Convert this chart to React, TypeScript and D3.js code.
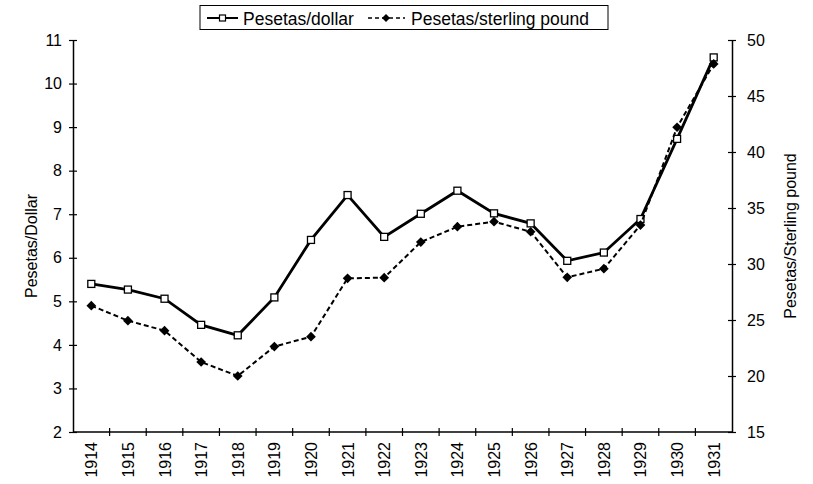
import React, { useEffect, useRef } from 'react';
import * as d3 from 'd3';

const years = ['1914', '1915', '1916', '1917', '1918', '1919', '1920', '1921', '1922',
  '1923', '1924', '1925', '1926', '1927', '1928', '1929', '1930', '1931'];

const pesetasDollar = [5.4, 5.27, 5.06, 4.46, 4.22, 5.09, 6.41, 7.44, 6.48,
  7.01, 7.54, 7.02, 6.79, 5.93, 6.12, 6.89, 8.73, 10.6];

const pesetasPound = [26.28, 24.94, 24.05, 21.25, 20.0, 22.63, 23.51, 28.72, 28.78,
  31.96, 33.33, 33.78, 32.88, 28.81, 29.58, 33.48, 42.21, 47.86];

const leftTicks = [2, 3, 4, 5, 6, 7, 8, 9, 10, 11];
const rightTicks = [15, 20, 25, 30, 35, 40, 45, 50];

const FONT = '"Liberation Sans", Arial, Helvetica, sans-serif';

const App = () => {
  const svgRef = useRef<SVGSVGElement>(null);

  useEffect(() => {
    const width = 813;
    const height = 484;
    const left = 73, right = 732, top = 40, bottom = 432;

    const svg = d3.select(svgRef.current);
    svg.selectAll('*').remove();
    svg.attr('width', width).attr('height', height)
      .style('font-family', FONT);

    const x = d3.scaleBand().domain(years).range([left, right]);
    const yL = d3.scaleLinear().domain([2, 11]).range([bottom, top]);
    const yR = d3.scaleLinear().domain([15, 50]).range([bottom, top]);
    const cx = (d: string) => (x(d) as number) + x.bandwidth() / 2;

    // left axis
    const gL = svg.append('g').attr('transform', `translate(${left},0)`)
      .call(d3.axisLeft(yL).tickValues(leftTicks).tickSize(0).tickPadding(11).tickFormat(d3.format('d')));
    gL.select('.domain').attr('stroke', '#000').attr('stroke-width', 1.5);
    gL.selectAll('.tick').append('line').attr('x1', -4).attr('x2', 4).attr('stroke', '#000').attr('stroke-width', 1.2);
    gL.selectAll('text').attr('font-size', 16).attr('font-family', FONT).attr('fill', '#000');

    // right axis
    const gR = svg.append('g').attr('transform', `translate(${right},0)`)
      .call(d3.axisRight(yR).tickValues(rightTicks).tickSize(0).tickPadding(15).tickFormat(d3.format('d')));
    gR.select('.domain').attr('stroke', '#000').attr('stroke-width', 1.5);
    gR.selectAll('.tick').append('line').attr('x1', -4).attr('x2', 4).attr('stroke', '#000').attr('stroke-width', 1.2);
    gR.selectAll('text').attr('font-size', 16).attr('font-family', FONT).attr('fill', '#000');

    // x axis
    const gX = svg.append('g');
    gX.append('line').attr('x1', left).attr('x2', right).attr('y1', bottom).attr('y2', bottom)
      .attr('stroke', '#000').attr('stroke-width', 1.5);
    const bounds = years.slice(1).map(d => x(d) as number);
    gX.selectAll('line.tk').data(bounds).enter().append('line')
      .attr('x1', d => d).attr('x2', d => d).attr('y1', bottom - 4).attr('y2', bottom + 4)
      .attr('stroke', '#000').attr('stroke-width', 1.2);
    gX.selectAll('text').data(years).enter().append('text')
      .attr('transform', d => `translate(${cx(d) + 6},${bottom + 10}) rotate(-90)`)
      .attr('text-anchor', 'end')
      .attr('font-size', 16)
      .text(d => d);

    // axis titles
    svg.append('text')
      .attr('transform', `translate(37,246) rotate(-90)`)
      .attr('text-anchor', 'middle').attr('font-size', 16).text('Pesetas/Dollar');
    svg.append('text')
      .attr('transform', `translate(796,236) rotate(-90)`)
      .attr('text-anchor', 'middle').attr('font-size', 16).text('Pesetas/Sterling pound');

    // dollar series
    const lineL = d3.line<number>().x((_, i) => cx(years[i])).y(d => yL(d));
    svg.append('path').datum(pesetasDollar).attr('d', lineL)
      .attr('fill', 'none').attr('stroke', '#000').attr('stroke-width', 2.8);
    svg.selectAll('rect.sq').data(pesetasDollar).enter().append('rect')
      .attr('x', (_, i) => cx(years[i]) - 3.5).attr('y', d => yL(d) - 3.5)
      .attr('width', 7).attr('height', 7)
      .attr('fill', '#fff').attr('stroke', '#000').attr('stroke-width', 1.3);

    // pound series
    const lineR = d3.line<number>().x((_, i) => cx(years[i])).y(d => yR(d));
    svg.append('path').datum(pesetasPound).attr('d', lineR)
      .attr('fill', 'none').attr('stroke', '#000').attr('stroke-width', 2)
      .attr('stroke-dasharray', '5,3');
    const diamond = d3.symbol().type(d3.symbolDiamond2).size(60);
    svg.selectAll('path.dm').data(pesetasPound).enter().append('path')
      .attr('d', diamond)
      .attr('transform', (d, i) => `translate(${cx(years[i])},${yR(d)})`)
      .attr('fill', '#000');

    // legend
    const lg = svg.append('g');
    lg.append('rect').attr('x', 200).attr('y', 5.5).attr('width', 408).attr('height', 24)
      .attr('fill', '#fff').attr('stroke', '#000').attr('stroke-width', 1);
    lg.append('line').attr('x1', 207).attr('x2', 238).attr('y1', 18).attr('y2', 18)
      .attr('stroke', '#000').attr('stroke-width', 2);
    lg.append('rect').attr('x', 219.5).attr('y', 15).attr('width', 6).attr('height', 6)
      .attr('fill', '#fff').attr('stroke', '#000').attr('stroke-width', 1.2);
    lg.append('text').attr('x', 243).attr('y', 24.5).attr('font-size', 17.5).text('Pesetas/dollar');
    lg.append('line').attr('x1', 368).attr('x2', 405).attr('y1', 18).attr('y2', 18)
      .attr('stroke', '#000').attr('stroke-width', 1.6).attr('stroke-dasharray', '4,3');
    lg.append('path').attr('d', d3.symbol().type(d3.symbolDiamond2).size(40))
      .attr('transform', 'translate(386,18)').attr('fill', '#000');
    lg.append('text').attr('x', 411).attr('y', 24.5).attr('font-size', 17.5).text('Pesetas/sterling pound');
  }, []);

  return (
    <svg ref={svgRef} style={{ position: 'absolute', left: 0, top: 0, background: '#fff' }}></svg>
  );
};

export default App;
